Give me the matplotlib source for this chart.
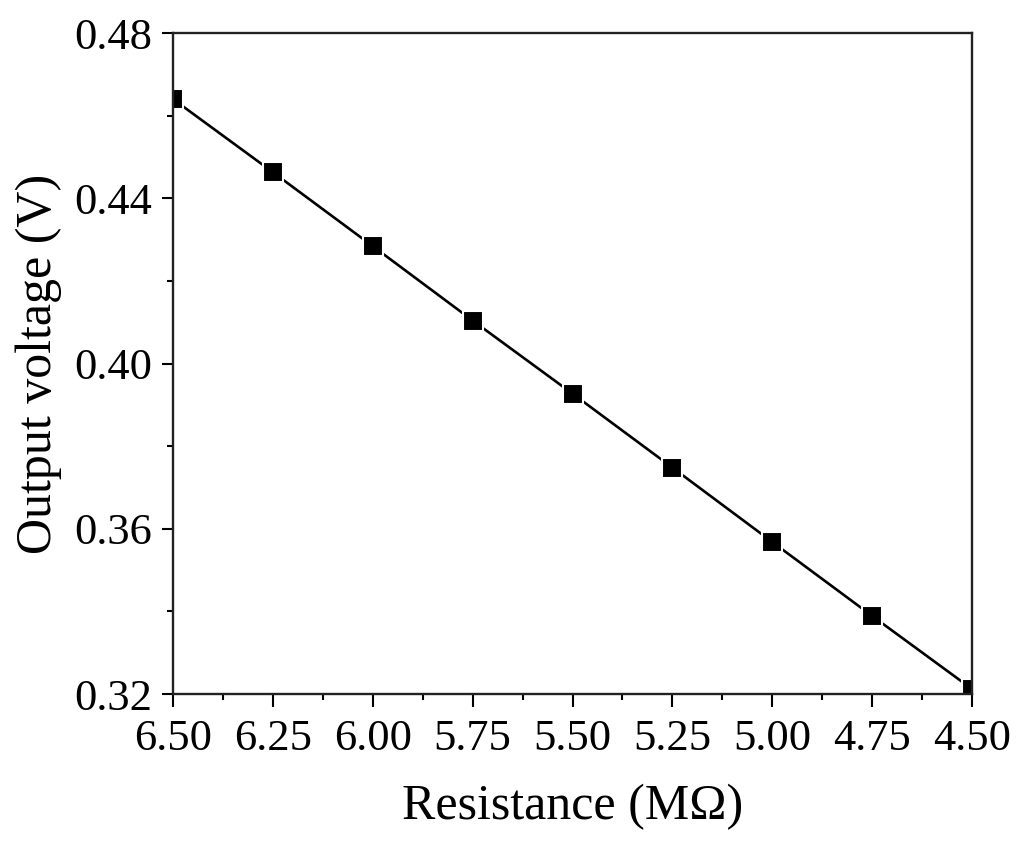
import matplotlib
matplotlib.use("Agg")
import matplotlib.pyplot as plt
from matplotlib.ticker import MultipleLocator, FormatStrFormatter

resistance = [6.50, 6.25, 6.00, 5.75, 5.50, 5.25, 5.00, 4.75, 4.50]
voltage = [0.4640, 0.4463, 0.4284, 0.4104, 0.3927, 0.3748, 0.3568, 0.3389, 0.3212]
x_ticks = [6.50, 6.25, 6.00, 5.75, 5.50, 5.25, 5.00, 4.75, 4.50]
y_ticks = [0.32, 0.36, 0.40, 0.44, 0.48]

plt.rcParams['font.family'] = ['Liberation Serif', 'DejaVu Serif']

fig = plt.figure(figsize=(10.24, 8.47), dpi=100)
ax = fig.add_axes([173/1024, 1-694/847, (972-173)/1024, (694-33)/847])

ax.plot(resistance, voltage, color='black', linewidth=1.9, marker='s',
        markersize=14.5, markerfacecolor='black', markeredgecolor='white',
        markeredgewidth=1.5, clip_on=True)

ax.set_xlim(6.50, 4.50)
ax.set_ylim(0.32, 0.48)
ax.set_xticks(x_ticks)
ax.set_yticks(y_ticks)
ax.xaxis.set_major_formatter(FormatStrFormatter('%.2f'))
ax.yaxis.set_major_formatter(FormatStrFormatter('%.2f'))
ax.xaxis.set_minor_locator(MultipleLocator(0.125))
ax.yaxis.set_minor_locator(MultipleLocator(0.02))

ax.tick_params(which='major', direction='out', length=8, width=1.5, labelsize=32)
ax.tick_params(which='minor', direction='out', length=4.5, width=1.5)
ax.tick_params(axis='x', which='major', length=9, pad=9)
ax.tick_params(axis='y', which='major', pad=7)
for s in ax.spines.values():
    s.set_linewidth(1.7)
    s.set_color('#222222')

ax.set_xlabel('Resistance (M\u03a9)', fontsize=36, labelpad=18)
ax.set_ylabel('Output voltage (V)', fontsize=36, labelpad=9)

fig.savefig('out.png', dpi=100)
